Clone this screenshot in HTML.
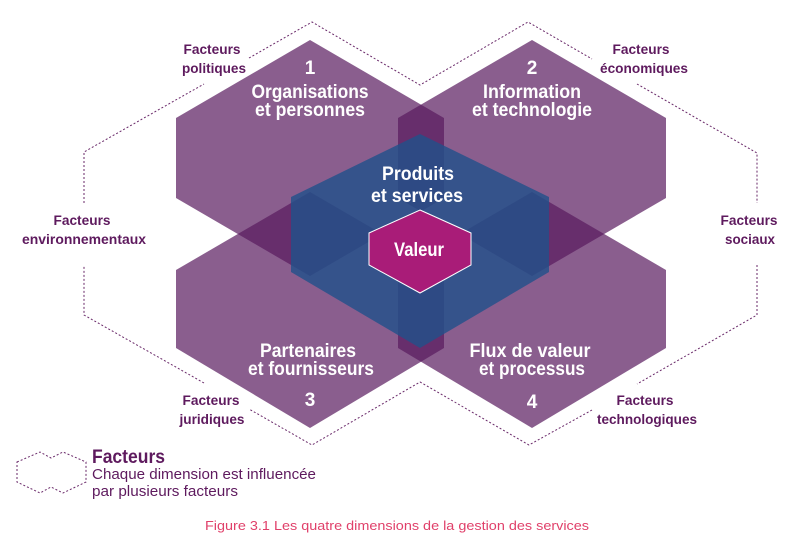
<!DOCTYPE html>
<html><head><meta charset="utf-8"><style>
html,body{margin:0;padding:0;background:#fff;}
svg{display:block;}
.w{fill:#fff;font-family:"Liberation Sans",sans-serif;font-weight:bold;font-size:19px;text-anchor:middle;}
.o{fill:#5e1a5e;font-family:"Liberation Sans",sans-serif;font-weight:bold;font-size:14px;text-anchor:middle;}
</style></head><body>
<svg width="804" height="546" viewBox="0 0 804 546" xmlns="http://www.w3.org/2000/svg">
<g fill="none" stroke="#6a2a6a" stroke-width="1" stroke-dasharray="2,2">
<polyline points="249,58 312,22 420,85 528,22 592,59"/>
<polyline points="637,84 757,153 757,203"/>
<polyline points="757,265 757,315 637,384"/>
<polyline points="592,410 529,445 420,382 312,445 249,409"/>
<polyline points="204,383 84,315 84,265"/>
<polyline points="84,203 84,152 204,84"/>
<polygon points="17,462 40,452 51,458 63,452 86,462 86,482 63,493 51,487 40,493 17,482"/>
</g>
<g fill="#591A5E" fill-opacity="0.7">
<polygon points="310,40 444,118 444,198 310,276 176,198 176,118"/>
<polygon points="532,40 666,118 666,198 532,276 398,198 398,118"/>
<polygon points="310,192 444,270 444,348 310,428 176,348 176,270"/>
<polygon points="532,192 666,270 666,348 532,428 398,348 398,270"/>
</g>
<polygon points="420,134 549,197 549,272 420,348 291,272 291,197" fill="#22518a" fill-opacity="0.82"/>
<polygon points="420,210 471,233 471,265 420,293 369,265 369,233" fill="#a91c78" stroke="#fff" stroke-width="1"/>
<text class="w" x="310" y="74">1</text>
<text class="w" x="310" y="98" textLength="117" lengthAdjust="spacingAndGlyphs">Organisations</text>
<text class="w" x="310" y="116" textLength="110" lengthAdjust="spacingAndGlyphs">et personnes</text>
<text class="w" x="532" y="74">2</text>
<text class="w" x="532" y="98" textLength="98" lengthAdjust="spacingAndGlyphs">Information</text>
<text class="w" x="532" y="116" textLength="120" lengthAdjust="spacingAndGlyphs">et technologie</text>
<text class="w" x="418" y="180" textLength="72" lengthAdjust="spacingAndGlyphs">Produits</text>
<text class="w" x="417" y="202" textLength="92" lengthAdjust="spacingAndGlyphs">et services</text>
<text class="w" x="419" y="256" textLength="50" lengthAdjust="spacingAndGlyphs">Valeur</text>
<text class="w" x="308" y="357" textLength="96" lengthAdjust="spacingAndGlyphs">Partenaires</text>
<text class="w" x="311" y="375" textLength="126" lengthAdjust="spacingAndGlyphs">et fournisseurs</text>
<text class="w" x="310" y="406">3</text>
<text class="w" x="530" y="357" textLength="121" lengthAdjust="spacingAndGlyphs">Flux de valeur</text>
<text class="w" x="532" y="375" textLength="106" lengthAdjust="spacingAndGlyphs">et processus</text>
<text class="w" x="532" y="408">4</text>
<text class="o" x="212" y="54" textLength="57" lengthAdjust="spacingAndGlyphs">Facteurs</text>
<text class="o" x="214" y="73" textLength="64" lengthAdjust="spacingAndGlyphs">politiques</text>
<text class="o" x="641" y="54" textLength="57" lengthAdjust="spacingAndGlyphs">Facteurs</text>
<text class="o" x="644" y="73" textLength="88" lengthAdjust="spacingAndGlyphs">économiques</text>
<text class="o" x="82" y="225" textLength="57" lengthAdjust="spacingAndGlyphs">Facteurs</text>
<text class="o" x="84" y="244" textLength="124" lengthAdjust="spacingAndGlyphs">environnementaux</text>
<text class="o" x="749" y="225" textLength="57" lengthAdjust="spacingAndGlyphs">Facteurs</text>
<text class="o" x="750" y="244" textLength="50" lengthAdjust="spacingAndGlyphs">sociaux</text>
<text class="o" x="211" y="405" textLength="57" lengthAdjust="spacingAndGlyphs">Facteurs</text>
<text class="o" x="212" y="424" textLength="65" lengthAdjust="spacingAndGlyphs">juridiques</text>
<text class="o" x="645" y="405" textLength="57" lengthAdjust="spacingAndGlyphs">Facteurs</text>
<text class="o" x="647" y="424" textLength="100" lengthAdjust="spacingAndGlyphs">technologiques</text>
<text x="92" y="463" fill="#5e1a5e" font-family="Liberation Sans,sans-serif" font-weight="bold" font-size="19" textLength="73" lengthAdjust="spacingAndGlyphs">Facteurs</text>
<text x="92" y="479" fill="#5e1a5e" font-family="Liberation Sans,sans-serif" font-size="15" textLength="224" lengthAdjust="spacingAndGlyphs">Chaque dimension est influencée</text>
<text x="92" y="496" fill="#5e1a5e" font-family="Liberation Sans,sans-serif" font-size="15" textLength="146" lengthAdjust="spacingAndGlyphs">par plusieurs facteurs</text>
<text x="397" y="530" fill="#e0406a" font-family="Liberation Sans,sans-serif" font-size="13" text-anchor="middle" textLength="384" lengthAdjust="spacingAndGlyphs">Figure 3.1 Les quatre dimensions de la gestion des services</text>
</svg>
</body></html>
